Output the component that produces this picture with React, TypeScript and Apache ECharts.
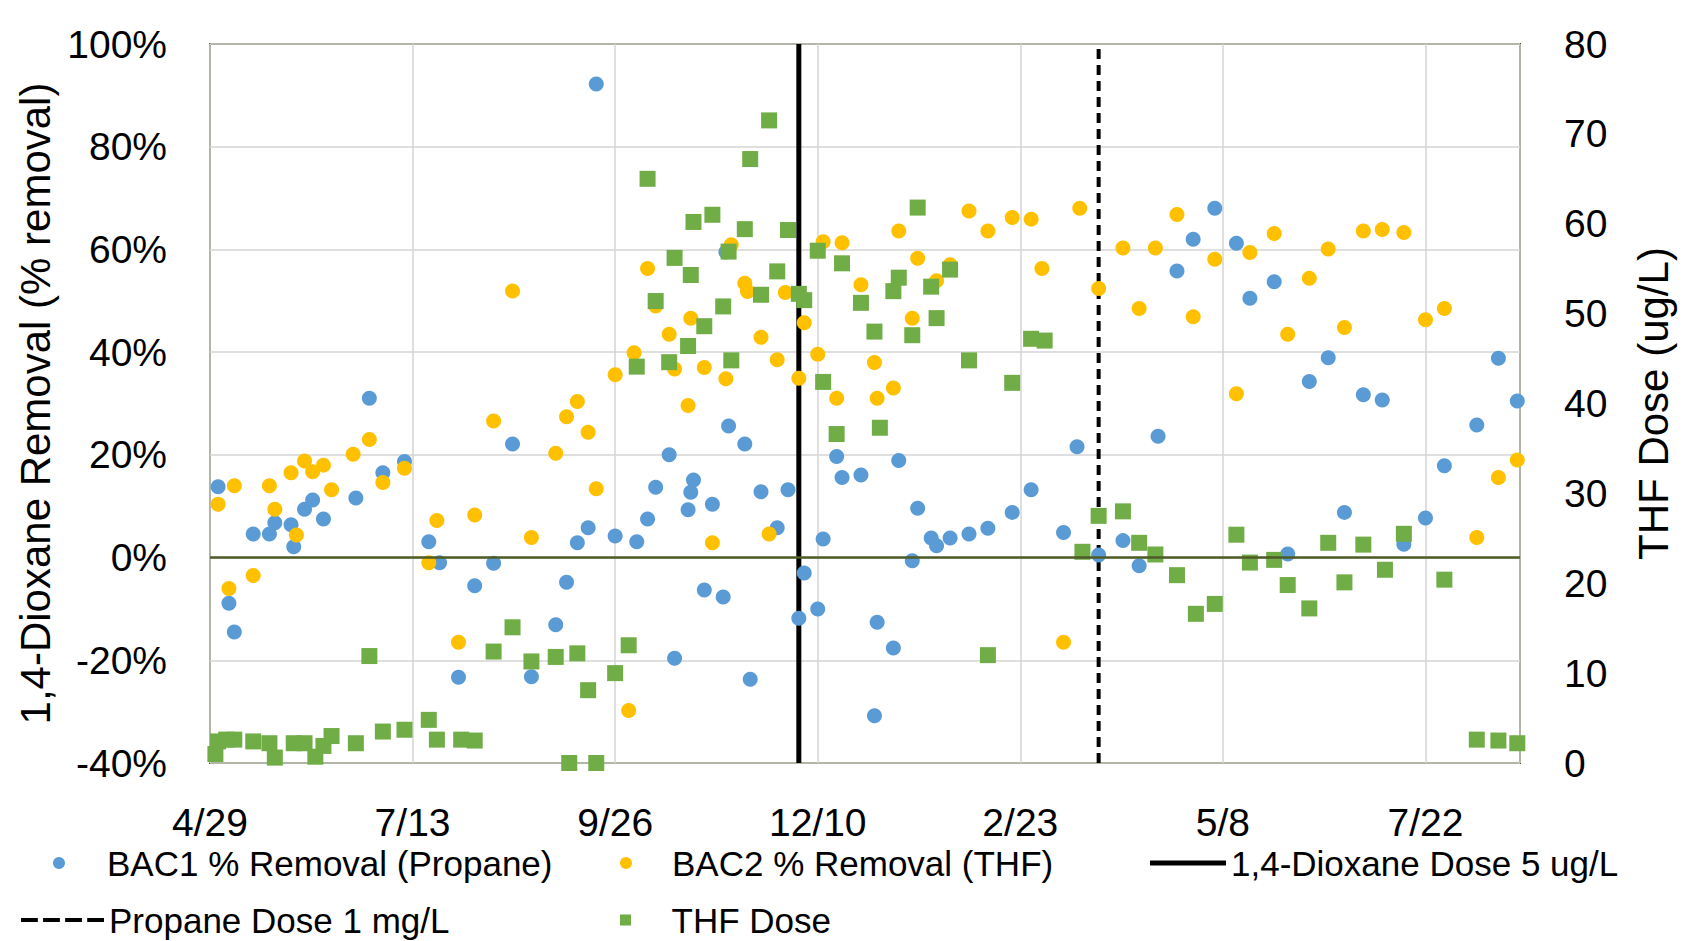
import React, { useEffect, useRef } from "react";
import * as echarts from "echarts";

// Day offsets are days since 4/29/2019 (x axis ticks every 75 days)
const xTickLabels = ["4/29", "7/13", "9/26", "12/10", "2/23", "5/8", "7/22"];
const xTickStep = 75;
const xMaxDay = 485;

const bac1Days = [3, 7, 9, 16, 22, 24, 30, 31, 35, 38, 42, 54, 59, 64, 72, 81, 85, 92, 98, 105, 112, 119, 128, 132, 136, 140, 143, 150, 158, 162, 165, 170, 172, 177, 178, 179, 183, 186, 190, 191, 192, 198, 200, 204, 210, 214, 218, 220, 225, 227, 232, 234, 241, 246, 247, 253, 255, 260, 262, 267, 269, 274, 281, 288, 297, 304, 316, 321, 329, 338, 344, 351, 358, 364, 372, 380, 385, 394, 399, 407, 414, 420, 427, 434, 442, 450, 457, 469, 477, 484];
const bac1Removal = [13.8, -8.9, -14.5, 4.6, 4.6, 6.8, 6.4, 2.1, 9.4, 11.2, 7.5, 11.6, 31.0, 16.5, 18.7, 3.1, -1.0, -23.3, -5.5, -1.1, 22.1, -23.2, -13.1, -4.8, 2.9, 5.8, 92.2, 4.2, 3.1, 7.5, 13.7, 20.0, -19.6, 9.3, 12.7, 15.1, -6.3, 10.4, -7.7, 59.5, 25.6, 22.1, -23.7, 12.8, 5.8, 13.2, -11.8, -3.0, -10.0, 3.6, 19.7, 15.6, 16.1, -30.8, -12.6, -17.6, 18.9, -0.6, 9.6, 3.8, 2.3, 3.8, 4.6, 5.7, 8.8, 13.2, 4.9, 21.6, 0.5, 3.3, -1.6, 23.6, 55.8, 62.0, 68.0, 61.2, 50.5, 53.7, 0.7, 34.3, 38.9, 8.8, 31.7, 30.7, 2.6, 7.7, 17.9, 25.8, 38.8, 30.5];

const bac2Days = [3, 7, 9, 16, 22, 24, 30, 32, 35, 38, 42, 45, 53, 59, 64, 72, 81, 84, 92, 98, 105, 112, 119, 128, 132, 136, 140, 143, 150, 155, 157, 162, 165, 170, 172, 177, 178, 183, 186, 191, 193, 198, 199, 204, 207, 210, 213, 218, 220, 225, 227, 232, 234, 241, 246, 247, 253, 255, 260, 262, 269, 274, 281, 288, 297, 304, 308, 316, 322, 329, 338, 344, 350, 358, 364, 372, 380, 385, 394, 399, 407, 414, 420, 427, 434, 442, 450, 457, 469, 477, 484];
const bac2Removal = [10.4, -6.0, 14.0, -3.5, 14.0, 9.4, 16.5, 4.4, 18.8, 16.7, 18.0, 13.2, 20.1, 23.0, 14.6, 17.4, -1.0, 7.2, -16.5, 8.3, 26.6, 51.9, 3.9, 20.3, 27.4, 30.4, 24.4, 13.4, 35.6, -29.8, 39.9, 56.3, 49.0, 43.5, 36.7, 29.6, 46.6, 37.0, 2.9, 34.8, 60.9, 53.4, 51.8, 42.9, 4.6, 38.5, 51.6, 34.9, 45.7, 39.6, 61.5, 31.0, 61.3, 53.1, 38.0, 31.0, 33.0, 63.6, 46.6, 58.3, 53.9, 57.0, 67.5, 63.6, 66.2, 65.9, 56.3, -16.5, 68.0, 52.4, 60.3, 48.5, 60.3, 66.8, 46.9, 58.1, 31.9, 59.4, 63.1, 43.5, 54.4, 60.1, 44.8, 63.6, 63.9, 63.3, 46.3, 48.5, 3.9, 15.6, 19.0];

const thfDays = [2, 3, 6, 9, 16, 22, 24, 31, 35, 39, 42, 45, 54, 59, 64, 72, 81, 84, 93, 98, 105, 112, 119, 128, 133, 136, 140, 143, 150, 155, 158, 162, 165, 170, 172, 177, 178, 179, 183, 186, 190, 192, 193, 198, 200, 204, 207, 210, 214, 218, 220, 225, 227, 232, 234, 241, 246, 248, 253, 255, 260, 262, 267, 269, 274, 281, 288, 297, 304, 309, 323, 329, 338, 344, 350, 358, 365, 372, 380, 385, 394, 399, 407, 414, 420, 427, 435, 442, 457, 469, 477, 484];
const thfDose = [1.0, 2.4, 2.6, 2.6, 2.4, 2.2, 0.6, 2.2, 2.2, 0.7, 1.9, 3.0, 2.2, 11.9, 3.5, 3.7, 4.8, 2.6, 2.6, 2.5, 12.4, 15.1, 11.3, 11.8, 0.0, 12.2, 8.1, 0.0, 10.0, 13.1, 44.1, 65.0, 51.4, 44.6, 56.2, 46.4, 54.3, 60.2, 48.6, 61.0, 50.8, 56.9, 44.8, 59.4, 67.2, 52.1, 71.5, 54.7, 59.3, 52.2, 51.5, 57.0, 42.4, 36.6, 55.6, 51.2, 48.0, 37.3, 52.5, 54.0, 47.6, 61.8, 53.0, 49.5, 54.9, 44.8, 12.0, 42.3, 47.2, 47.0, 23.5, 27.5, 28.0, 24.5, 23.2, 20.9, 16.6, 17.7, 25.4, 22.3, 22.6, 19.8, 17.2, 24.5, 20.1, 24.3, 21.5, 25.5, 20.4, 2.6, 2.5, 2.2];

const dioxaneDoseDay = 218; // 1,4-Dioxane Dose 5 ug/L start
const propaneDoseDay = 329; // Propane Dose 1 mg/L start
const leftMin = -40;
const leftMax = 100;

const zip = (xs: number[], ys: number[]) => xs.map((x, i) => [x, ys[i]]);

const FONT = "'Liberation Sans', Arial, sans-serif";
const BORDER = "#4E5B26";

export default function App() {
  const ref = useRef<HTMLDivElement>(null);

  useEffect(() => {
    if (!ref.current) return;
    const chart = echarts.init(ref.current, undefined, { renderer: "svg" });
    const legendText = { fontFamily: FONT, fontSize: 35, color: "#000", lineHeight: 40 };
    const names = [
      "BAC1 % Removal (Propane)",
      "BAC2 % Removal (THF)",
      "1,4-Dioxane Dose 5 ug/L",
      "Propane Dose 1 mg/L",
      "THF Dose",
    ];
    const mkLegend = (name: string, left: number, top: number, icon: string, w: number, h: number) => ({
      data: [name],
      left,
      top,
      icon,
      itemWidth: w,
      itemHeight: h,
      selectedMode: false,
      padding: 0,
      textStyle: legendText,
    });
    chart.setOption({
      animation: false,
      backgroundColor: "#fff",
      textStyle: { fontFamily: FONT },
      grid: {
        left: 210,
        right: 166,
        top: 44,
        bottom: 178,
        show: true,
        borderColor: BORDER,
        borderWidth: 2,
        backgroundColor: "transparent",
      },
      legend: [
        mkLegend(names[0], 53, 843, "circle", 86, 12),
        mkLegend(names[1], 620, 843, "circle", 82, 12),
        mkLegend(names[2], 1150, 843, "path://M0,0h76v5h-76z", 76, 40),
        mkLegend(names[3], 21, 900, "path://M0,0h16v4h-16z M21,0h16v4h-16z M42,0h16v4h-16z M63,0h16v4h-16z", 83, 40),
        mkLegend(names[4], 620, 900, "path://M0,0h10v10h-10z", 82, 11),
      ],
      xAxis: {
        type: "value",
        min: 0,
        max: xMaxDay,
        interval: xTickStep,
        axisLine: { show: false },
        axisTick: { show: false },
        splitLine: { show: true, lineStyle: { color: "#D4D4D4", width: 1.5 } },
        axisLabel: {
          show: true,
          showMaxLabel: false,
          margin: 40,
          fontFamily: FONT,
          fontSize: 39,
          color: "#000",
          formatter: (v: number) => {
            const i = Math.round(v / xTickStep);
            return Math.abs(v - i * xTickStep) < 0.01 && xTickLabels[i] ? xTickLabels[i] : "";
          },
        },
      },
      yAxis: [
        {
          type: "value",
          min: leftMin,
          max: leftMax,
          interval: 20,
          position: "left",
          name: "1,4-Dioxane Removal (% removal)",
          nameLocation: "middle",
          nameRotate: 90,
          nameGap: 144,
          nameTextStyle: { fontFamily: FONT, fontSize: 42, color: "#000" },
          axisLine: { show: false },
          axisTick: { show: false },
          splitLine: { show: true, lineStyle: { color: "#D4D4D4", width: 1.5 } },
          axisLabel: { margin: 43, fontFamily: FONT, fontSize: 39, color: "#000", formatter: "{value}%" },
        },
        {
          type: "value",
          min: 0,
          max: 80,
          interval: 10,
          position: "right",
          name: "THF Dose (ug/L)",
          nameLocation: "middle",
          nameRotate: 90,
          nameGap: 112,
          nameTextStyle: { fontFamily: FONT, fontSize: 42, color: "#000" },
          axisLine: { show: false },
          axisTick: { show: false },
          splitLine: { show: false },
          axisLabel: { margin: 44, fontFamily: FONT, fontSize: 39, color: "#000" },
        },
      ],
      series: [
        {
          name: names[2],
          type: "line",
          yAxisIndex: 0,
          symbol: "none",
          z: 1,
          data: [
            [dioxaneDoseDay, leftMin],
            [dioxaneDoseDay, leftMax],
          ],
          itemStyle: { color: "#000" },
          lineStyle: { color: "#000", width: 5, type: "solid" },
          markLine: {
            silent: true,
            symbol: ["none", "none"],
            label: { show: false },
            lineStyle: { color: BORDER, width: 2.5, type: "solid" },
            data: [{ yAxis: 0 }],
          },
        },
        {
          name: names[3],
          type: "line",
          yAxisIndex: 0,
          symbol: "none",
          z: 1,
          data: [
            [propaneDoseDay, leftMin],
            [propaneDoseDay, leftMax],
          ],
          itemStyle: { color: "#000" },
          lineStyle: { color: "#000", width: 4, type: [10, 6] },
        },
        {
          name: names[0],
          type: "scatter",
          yAxisIndex: 0,
          symbol: "circle",
          symbolSize: 15,
          z: 2,
          itemStyle: { color: "#5B9BD5", opacity: 1 },
          data: zip(bac1Days, bac1Removal),
        },
        {
          name: names[1],
          type: "scatter",
          yAxisIndex: 0,
          symbol: "circle",
          symbolSize: 15,
          z: 2,
          itemStyle: { color: "#FFC000", opacity: 1 },
          data: zip(bac2Days, bac2Removal),
        },
        {
          name: names[4],
          type: "scatter",
          yAxisIndex: 1,
          symbol: "rect",
          symbolSize: 16,
          z: 3,
          itemStyle: { color: "#70AD47", opacity: 1 },
          data: zip(thfDays, thfDose),
        },
      ],
    });
    return () => chart.dispose();
  }, []);

  return (
    <div
      ref={ref}
      style={{ position: "fixed", left: 0, top: 0, width: 1686, height: 941, background: "#fff" }}
    />
  );
}
